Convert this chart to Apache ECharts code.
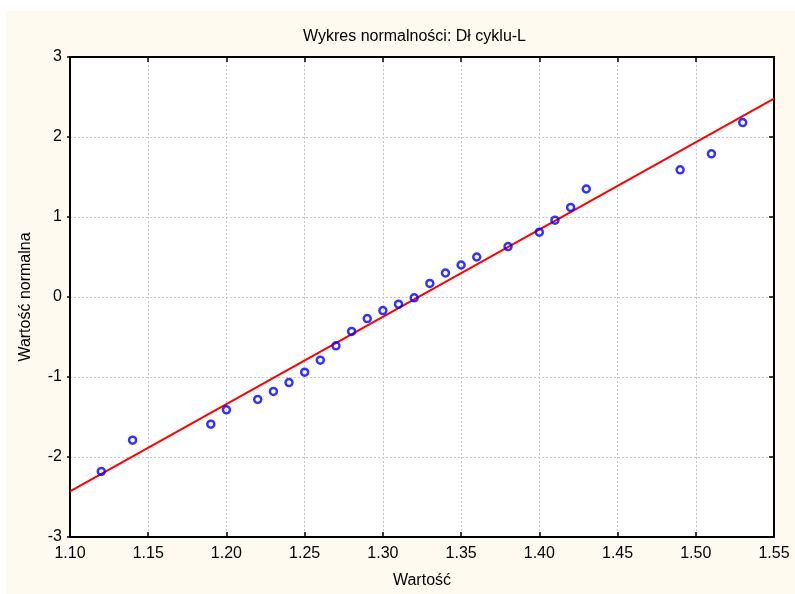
<!DOCTYPE html>
<html>
<head>
<meta charset="utf-8">
<script src="https://cdn.jsdelivr.net/npm/echarts@6/dist/echarts.min.js"></script>
<style>
html,body{margin:0;padding:0;background:#fff;}
#chart{width:795px;height:594px;}
</style>
</head>
<body>
<div id="chart"></div>
<script>
// Observed values (x) and normal scores (y)
const xValues = [1.12, 1.14, 1.19, 1.20, 1.22, 1.23, 1.24, 1.25, 1.26, 1.27, 1.28, 1.29, 1.30, 1.31, 1.32, 1.33, 1.34, 1.35, 1.36, 1.38, 1.40, 1.41, 1.42, 1.43, 1.49, 1.51, 1.53];
const normalScores = [-2.18, -1.79, -1.59, -1.41, -1.28, -1.18, -1.07, -0.94, -0.79, -0.61, -0.43, -0.27, -0.17, -0.09, -0.01, 0.17, 0.30, 0.40, 0.50, 0.63, 0.81, 0.96, 1.12, 1.35, 1.59, 1.79, 2.18];
// Fitted reference line endpoints
const lineX = [1.10, 1.55];
const lineY = [-2.43, 2.48];
const xTickLabels = ['1.10','1.15','1.20','1.25','1.30','1.35','1.40','1.45','1.50','1.55'];
const yTickLabels = ['-3','-2','-1','0','1','2','3'];
const titleText = 'Wykres normalności: Dł cyklu-L';
const xName = 'Wartość';
const yName = 'Wartość normalna';

const chart = echarts.init(document.getElementById('chart'), null, {renderer: 'canvas'});
const font = 'Arial, "Liberation Sans", sans-serif';
const fs = 16;
const xMin = 1.10, xMax = 1.55, xStep = 0.05;
const yMin = -3, yMax = 3, yStep = 1;

function xLabel(v){
  const i = Math.round((v - xMin) / xStep);
  return xTickLabels[i] !== undefined ? xTickLabels[i] : '';
}
function yLabel(v){
  const i = Math.round((v - yMin) / yStep);
  return yTickLabels[i] !== undefined ? yTickLabels[i] : '';
}

const frame = {show: true, onZero: false, lineStyle: {color: '#000', width: 2}};
const gridLine = {show: true, lineStyle: {color: '#c8c8c8', width: 1, type: [2, 2]}};

chart.setOption({
  backgroundColor: '#ffffff',
  animation: false,
  graphic: [{
    type: 'rect', z: -10, silent: true,
    shape: {x: 6, y: 11, width: 789, height: 583},
    style: {fill: '#FFFAEF'}
  }],
  title: {
    text: titleText,
    left: 298, top: 24,
    textStyle: {fontFamily: font, fontSize: fs, fontWeight: 'normal', color: '#000'}
  },
  grid: {
    left: 70, right: 21, top: 57, bottom: 57,
    show: true, backgroundColor: '#ffffff', borderWidth: 0
  },
  xAxis: [{
    type: 'value', min: xMin, max: xMax, interval: xStep, position: 'bottom',
    name: xName, nameLocation: 'middle', nameGap: 36,
    nameTextStyle: {fontFamily: font, fontSize: fs, color: '#000'},
    axisLine: frame,
    axisTick: {show: true, inside: true, length: 5, lineStyle: {color: '#000', width: 1.5}},
    axisLabel: {formatter: xLabel, fontFamily: font, fontSize: fs, color: '#000', margin: 9},
    splitLine: gridLine
  }, {
    type: 'value', min: xMin, max: xMax, interval: xStep, position: 'top',
    axisLine: frame,
    axisTick: {show: true, inside: true, length: 5, lineStyle: {color: '#000', width: 1.5}},
    axisLabel: {show: false},
    splitLine: {show: false}
  }],
  yAxis: [{
    type: 'value', min: yMin, max: yMax, interval: yStep, position: 'left',
    name: yName, nameLocation: 'middle', nameGap: 36, nameRotate: 90,
    nameTextStyle: {fontFamily: font, fontSize: fs, color: '#000'},
    axisLine: frame,
    axisTick: {show: true, inside: false, length: 3, lineStyle: {color: '#000', width: 1.5}},
    axisLabel: {formatter: yLabel, fontFamily: font, fontSize: fs, color: '#000', margin: 8},
    splitLine: gridLine
  }, {
    type: 'value', min: yMin, max: yMax, interval: yStep, position: 'right',
    axisLine: frame,
    axisTick: {show: true, inside: true, length: 5, lineStyle: {color: '#000', width: 1.5}},
    axisLabel: {show: false},
    splitLine: {show: false}
  }],
  series: [{
    type: 'line',
    data: lineX.map((x, i) => [x, lineY[i]]),
    xAxisIndex: 0, yAxisIndex: 0,
    showSymbol: false, symbol: 'none',
    lineStyle: {color: '#ff0000', width: 2},
    z: 3
  }, {
    type: 'scatter',
    data: xValues.map((x, i) => [x, normalScores[i]]),
    xAxisIndex: 0, yAxisIndex: 0,
    symbol: 'circle', symbolSize: 7,
    itemStyle: {color: 'rgba(255,255,255,0)', borderColor: '#0000ff', borderWidth: 2.5},
    z: 4
  }]
});
</script>
</body>
</html>
